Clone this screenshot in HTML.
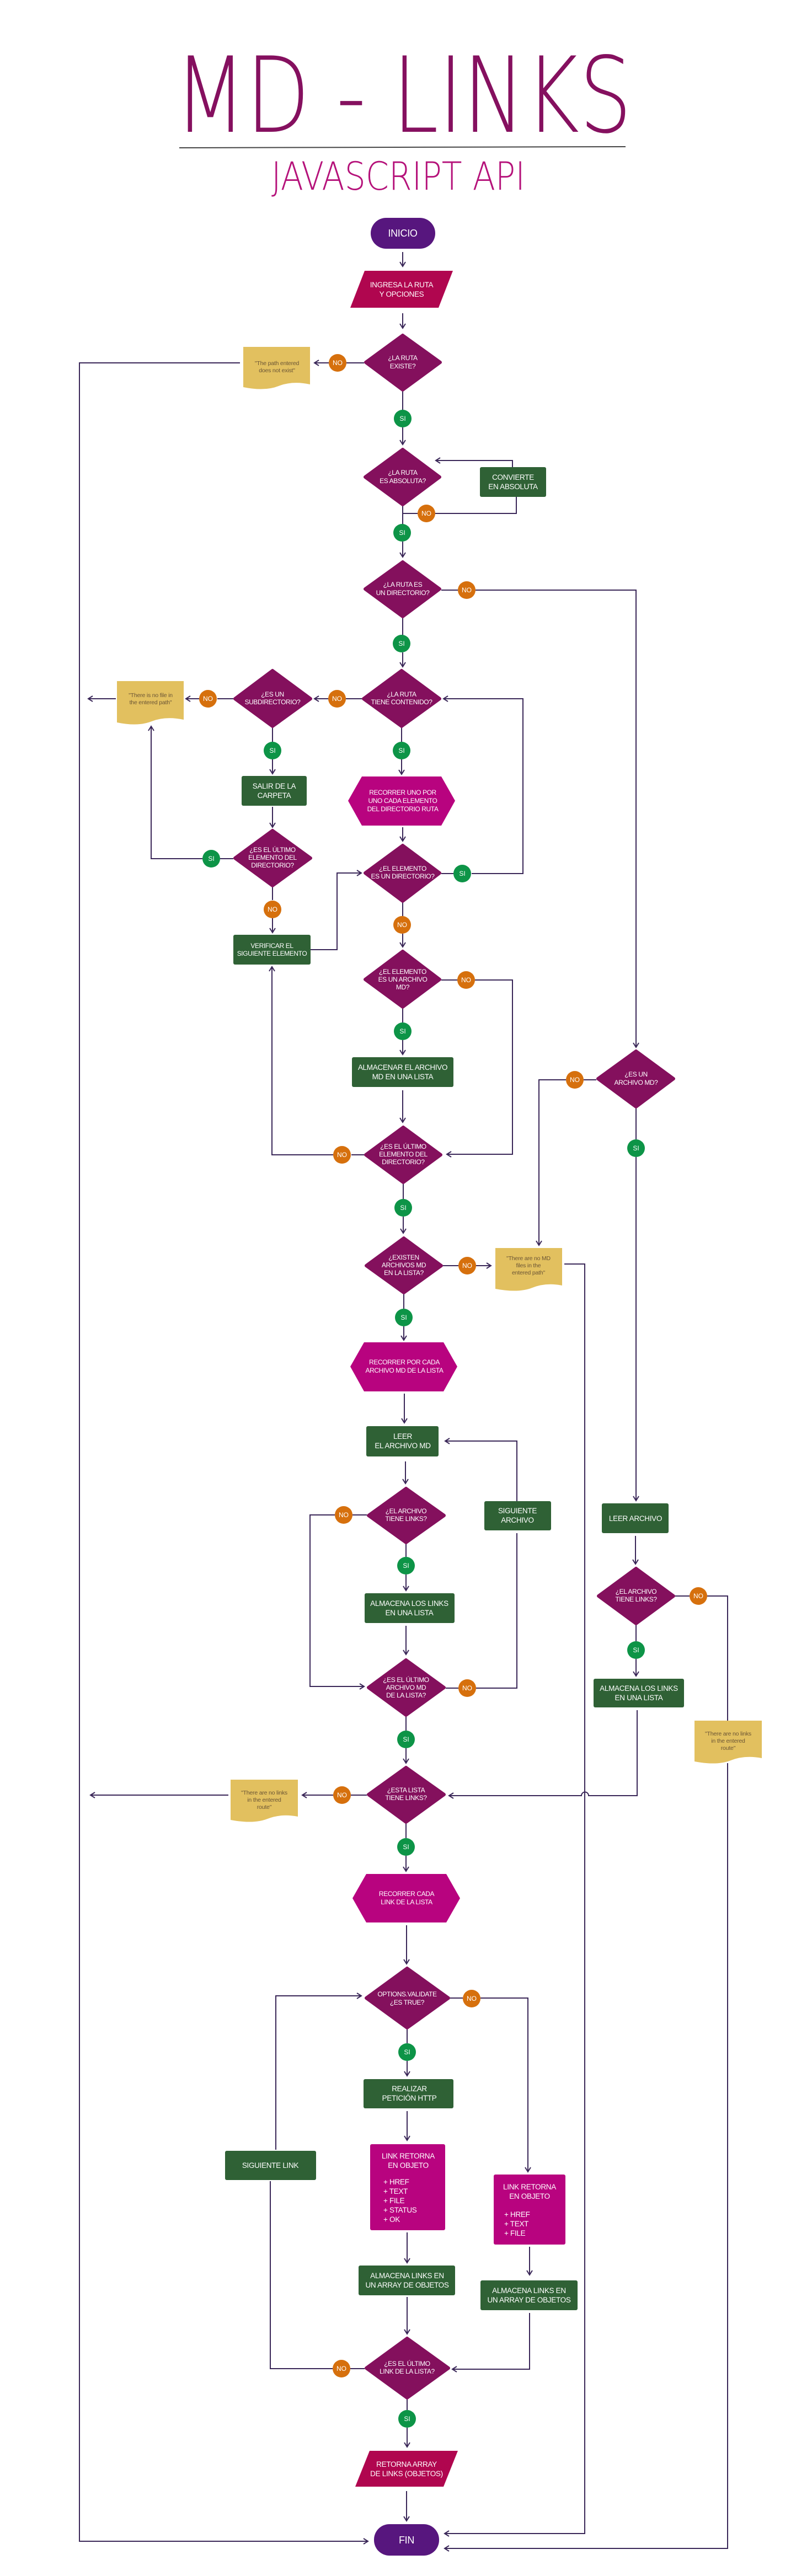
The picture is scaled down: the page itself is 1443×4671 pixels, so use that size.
<!DOCTYPE html>
<html><head><meta charset="utf-8"><style>
html,body{margin:0;padding:0;background:#fff}
svg{display:block}
.t{font-family:"Liberation Sans",sans-serif;fill:#fff;text-anchor:middle;font-size:13.5px;letter-spacing:-0.3px}
.s{font-size:12px;letter-spacing:-0.4px}
.n{font-family:"Liberation Sans",sans-serif;fill:#6b5535;text-anchor:middle;font-size:10.5px;letter-spacing:-0.2px}
.c{stroke:#3a2758;stroke-width:2;fill:none}
.a{stroke:#3a2758;stroke-width:2;fill:none;marker-end:url(#ar)}
.d{fill:#84105d;stroke:#84105d;stroke-width:6;stroke-linejoin:round}
.g{fill:#2f6135}
.m{fill:#b8037f}
.p{fill:#b0064f}
.y{fill:#e2c05f}
</style></head><body>
<svg width="1443" height="4671" viewBox="0 0 1443 4671" xmlns="http://www.w3.org/2000/svg">
<defs><marker id="ar" markerWidth="14" markerHeight="14" refX="9" refY="6" orient="auto" markerUnits="userSpaceOnUse"><path d="M1,1 L9,6 L1,11" stroke="#3a2758" stroke-width="2" fill="none"/></marker></defs>

<text x="731" y="239" text-anchor="middle" textLength="829" lengthAdjust="spacingAndGlyphs" style="font-family:'DejaVu Sans','Liberation Sans',sans-serif;font-weight:200;font-size:190px;fill:#85105f">MD - LINKS</text>
<line x1="325" y1="268" x2="1134" y2="266" stroke="#444" stroke-width="2"/>
<text x="722" y="344" text-anchor="middle" textLength="460" lengthAdjust="spacingAndGlyphs" style="font-family:'DejaVu Sans','Liberation Sans',sans-serif;font-weight:200;font-size:70px;fill:#b5127a">JAVASCRIPT API</text>

<!-- connectors -->
<g>
<path class="a" d="M730,457V483"/>
<path class="a" d="M730,568V595"/>
<path class="c" d="M660,658H628"/><path class="a" d="M596,658H570"/>
<path class="a" d="M435,658H144V4608H667"/>
<path class="c" d="M730,710V744"/><path class="a" d="M730,775V806"/>
<path class="c" d="M730,918V931H757"/><path class="c" d="M789,931H936V901"/>
<path class="a" d="M929,847V835H790"/>
<path class="c" d="M730,931V951"/><path class="a" d="M730,982V1010"/>
<path class="c" d="M800,1070H830"/><path class="a" d="M862,1070H1153V1899"/>
<path class="c" d="M730,1121V1152"/><path class="a" d="M730,1183V1209"/>
<path class="c" d="M656,1267H627"/><path class="a" d="M595,1267H570"/>
<path class="c" d="M423,1267H394"/><path class="a" d="M361,1267H337"/>
<path class="a" d="M210,1267H160"/>
<path class="c" d="M728,1320V1345"/><path class="a" d="M728,1377V1404"/>
<path class="a" d="M730,1500V1525"/>
<path class="c" d="M800,1584H822"/><path class="a" d="M855,1584H948V1267H804"/>
<path class="c" d="M730,1637V1661"/><path class="a" d="M730,1693V1717"/>
<path class="c" d="M800,1777H830"/><path class="a" d="M861,1777H929V2093H810"/>
<path class="c" d="M730,1829V1854"/><path class="a" d="M730,1886V1912"/>
<path class="a" d="M730,1977V2035"/>
<path class="c" d="M660,2094H637"/><path class="a" d="M604,2094H493V1753"/>
<path class="c" d="M731,2147V2175"/><path class="a" d="M731,2206V2236"/>
<path class="c" d="M494,1320V1345"/><path class="a" d="M494,1377V1403"/>
<path class="a" d="M494,1463V1500"/>
<path class="c" d="M423,1557H399"/><path class="a" d="M367,1557H274V1317"/>
<path class="c" d="M494,1609V1632"/><path class="a" d="M494,1665V1691"/>
<path class="a" d="M563,1722H611V1583H655"/>
<path class="c" d="M803,2295H831"/><path class="a" d="M863,2295H890"/>
<path class="a" d="M1023,2292H1060V4594H806"/>
<path class="c" d="M732,2347V2373"/><path class="a" d="M732,2405V2430"/>
<path class="a" d="M733,2527V2580"/>
<path class="a" d="M735,2650V2690"/>
<path class="c" d="M665,2747H639"/><path class="a" d="M607,2747H562V3058H660"/>
<path class="c" d="M736,2800V2823"/><path class="a" d="M736,2855V2884"/>
<path class="a" d="M736,2948V3000"/>
<path class="c" d="M808,3061H831"/><path class="c" d="M863,3061H937V2780"/>
<path class="a" d="M937,2722V2613H807"/>
<path class="c" d="M736,3113V3138"/><path class="a" d="M736,3170V3197"/>
<path class="c" d="M665,3255H636"/><path class="a" d="M604,3255H548"/>
<path class="a" d="M414,3255H164"/>
<path class="a" d="M1155,3101V3256H1067a6,6 0 0 0 -13,0H814"/>
<path class="c" d="M736,3307V3333"/><path class="a" d="M736,3365V3393"/>
<path class="c" d="M1081,1958H1058"/><path class="a" d="M1026,1958H977V2258"/>
<path class="c" d="M1153,2010V2066"/><path class="a" d="M1153,2098V2721"/>
<path class="a" d="M1152,2785V2836"/>
<path class="c" d="M1224,2894H1250"/><path class="c" d="M1282,2894H1319V3120"/>
<path class="a" d="M1319,3197V4621H806"/>
<path class="c" d="M1153,2947V2976"/><path class="a" d="M1153,3008V3039"/>
<path class="a" d="M737,3491V3561"/>
<path class="c" d="M816,3623H839"/><path class="a" d="M871,3623H957V3938"/>
<path class="c" d="M738,3680V3705"/><path class="a" d="M738,3737V3764"/>
<path class="a" d="M738,3828V3881"/>
<path class="a" d="M738,4048V4103"/>
<path class="a" d="M738,4165V4232"/>
<path class="c" d="M661,4295H635"/><path class="c" d="M603,4295H490V3955"/>
<path class="a" d="M500,3898V3619H655"/>
<path class="a" d="M960,4074V4125"/>
<path class="a" d="M960,4194V4296H820"/>
<path class="c" d="M738,4351V4370"/><path class="a" d="M738,4402V4437"/>
<path class="a" d="M737,4517V4571"/>
</g>

<!-- shapes -->
<rect x="672" y="395" width="117" height="56" rx="28" fill="#57167e"/>
<text class="t" x="730" y="429" style="font-size:18px">INICIO</text>
<polygon class="p" points="661,491 821,491 795,558 635,558"/>
<text class="t" x="728" y="521">INGRESA LA RUTA<tspan x="728" dy="17">Y OPCIONES</tspan></text>

<polygon class="d" points="730,608 798,657 730,707 663,657"/>
<text class="t s" x="730" y="653">¿LA RUTA<tspan x="730" dy="15">EXISTE?</tspan></text>
<path class="y" d="M441,629H562V697Q530,690 505,700T441,702Z"/>
<text class="n" x="502" y="662">"The path entered<tspan x="502" dy="13">does not exist"</tspan></text>

<polygon class="d" points="730,815 797,865 730,915 662,865"/>
<text class="t s" x="730" y="861">¿LA RUTA<tspan x="730" dy="15">ES ABSOLUTA?</tspan></text>
<rect class="g" x="870" y="847" width="120" height="54" rx="3"/>
<text class="t" x="930" y="870">CONVIERTE<tspan x="930" dy="17">EN ABSOLUTA</tspan></text>

<polygon class="d" points="730,1019 797,1068 730,1118 662,1068"/>
<text class="t s" x="730" y="1064">¿LA RUTA ES<tspan x="730" dy="15">UN DIRECTORIO?</tspan></text>

<polygon class="d" points="728,1216 797,1267 728,1317 659,1267"/>
<text class="t s" x="728" y="1263">¿LA RUTA<tspan x="728" dy="14">TIENE CONTENIDO?</tspan></text>
<polygon class="d" points="494,1216 563,1267 494,1317 426,1267"/>
<text class="t s" x="494" y="1263">¿ES UN<tspan x="494" dy="14">SUBDIRECTORIO?</tspan></text>
<path class="y" d="M212,1235H333V1305Q300,1298 275,1308T212,1310Z"/>
<text class="n" x="273" y="1264">"There is no file in<tspan x="273" dy="13">the entered path"</tspan></text>

<rect class="g" x="438" y="1407" width="118" height="54" rx="3"/>
<text class="t" x="497" y="1430">SALIR DE LA<tspan x="497" dy="17">CARPETA</tspan></text>
<polygon class="m" points="656,1408 800,1408 825,1452 800,1497 656,1497 631,1452"/>
<text class="t s" x="730" y="1441">RECORRER UNO POR<tspan x="730" dy="15">UNO CADA ELEMENTO</tspan><tspan x="730" dy="15">DEL DIRECTORIO RUTA</tspan></text>

<polygon class="d" points="494,1506 563,1556 494,1606 426,1556"/>
<text class="t s" x="494" y="1545">¿ES EL ÚLTIMO<tspan x="494" dy="14">ELEMENTO DEL</tspan><tspan x="494" dy="14">DIRECTORIO?</tspan></text>
<polygon class="d" points="730,1533 797,1583 730,1634 662,1583"/>
<text class="t s" x="730" y="1579">¿EL ELEMENTO<tspan x="730" dy="14">ES UN DIRECTORIO?</tspan></text>
<rect class="g" x="423" y="1695" width="140" height="54" rx="3"/>
<text class="t s" x="493" y="1719">VERIFICAR EL<tspan x="493" dy="14">SIGUIENTE ELEMENTO</tspan></text>

<polygon class="d" points="730,1725 797,1776 730,1826 662,1776"/>
<text class="t s" x="730" y="1766">¿EL ELEMENTO<tspan x="730" dy="14">ES UN ARCHIVO</tspan><tspan x="730" dy="14">MD?</tspan></text>
<rect class="g" x="638" y="1917" width="184" height="54" rx="3"/>
<text class="t" x="730" y="1940">ALMACENAR EL ARCHIVO<tspan x="730" dy="17">MD EN UNA LISTA</tspan></text>
<polygon class="d" points="731,2044 799,2094 731,2144 663,2094"/>
<text class="t s" x="731" y="2083">¿ES EL ÚLTIMO<tspan x="731" dy="14">ELEMENTO DEL</tspan><tspan x="731" dy="14">DIRECTORIO?</tspan></text>

<polygon class="d" points="1153,1906 1221,1956 1153,2007 1084,1956"/>
<text class="t s" x="1153" y="1952">¿ES UN<tspan x="1153" dy="15">ARCHIVO MD?</tspan></text>

<polygon class="d" points="732,2245 800,2295 732,2344 664,2295"/>
<text class="t s" x="732" y="2284">¿EXISTEN<tspan x="732" dy="14">ARCHIVOS MD</tspan><tspan x="732" dy="14">EN LA LISTA?</tspan></text>
<path class="y" d="M898,2263H1019V2331Q990,2325 965,2335T898,2337Z"/>
<text class="n" x="958" y="2285">"There are no MD<tspan x="958" dy="13">files in the</tspan><tspan x="958" dy="13">entered path"</tspan></text>

<polygon class="m" points="660,2434 804,2434 829,2478 804,2523 660,2523 635,2478"/>
<text class="t s" x="733" y="2474">RECORRER POR CADA<tspan x="733" dy="15">ARCHIVO MD DE LA LISTA</tspan></text>
<rect class="g" x="664" y="2586" width="131" height="55" rx="3"/>
<text class="t" x="730" y="2609">LEER<tspan x="730" dy="17">EL ARCHIVO MD</tspan></text>
<rect class="g" x="878" y="2722" width="121" height="53" rx="3"/>
<text class="t" x="938" y="2744">SIGUIENTE<tspan x="938" dy="17">ARCHIVO</tspan></text>
<polygon class="d" points="736,2699 805,2748 736,2797 668,2748"/>
<text class="t s" x="736" y="2744">¿EL ARCHIVO<tspan x="736" dy="14">TIENE LINKS?</tspan></text>
<rect class="g" x="661" y="2889" width="163" height="54" rx="3"/>
<text class="t" x="742" y="2912">ALMACENA LOS LINKS<tspan x="742" dy="17">EN UNA LISTA</tspan></text>
<polygon class="d" points="736,3010 805,3060 736,3110 668,3060"/>
<text class="t s" x="736" y="3050">¿ES EL ÚLTIMO<tspan x="736" dy="14">ARCHIVO MD</tspan><tspan x="736" dy="14">DE LA LISTA?</tspan></text>
<polygon class="d" points="736,3205 805,3254 736,3304 668,3254"/>
<text class="t s" x="736" y="3250">¿ESTA LISTA<tspan x="736" dy="14">TIENE LINKS?</tspan></text>
<path class="y" d="M418,3227H540V3294Q510,3288 485,3298T418,3300Z"/>
<text class="n" x="479" y="3254">"There are no links<tspan x="479" dy="13">in the entered</tspan><tspan x="479" dy="13">route"</tspan></text>

<rect class="g" x="1091" y="2726" width="121" height="54" rx="3"/>
<text class="t" x="1152" y="2758">LEER ARCHIVO</text>
<polygon class="d" points="1153,2844 1221,2894 1153,2944 1085,2894"/>
<text class="t s" x="1153" y="2890">¿EL ARCHIVO<tspan x="1153" dy="14">TIENE LINKS?</tspan></text>
<rect class="g" x="1076" y="3044" width="164" height="52" rx="3"/>
<text class="t" x="1158" y="3066">ALMACENA LOS LINKS<tspan x="1158" dy="17">EN UNA LISTA</tspan></text>
<path class="y" d="M1259,3120H1381V3188Q1350,3182 1325,3192T1259,3194Z"/>
<text class="n" x="1320" y="3147">"There are no links<tspan x="1320" dy="13">in the entered</tspan><tspan x="1320" dy="13">route"</tspan></text>

<polygon class="m" points="664,3398 809,3398 834,3442 809,3486 664,3486 639,3442"/>
<text class="t s" x="737" y="3438">RECORRER CADA<tspan x="737" dy="15">LINK DE LA LISTA</tspan></text>
<polygon class="d" points="738,3569 813,3623 738,3677 664,3623"/>
<text class="t s" x="738" y="3620">OPTIONS.VALIDATE<tspan x="738" dy="15">¿ES TRUE?</tspan></text>
<rect class="g" x="659" y="3770" width="163" height="53" rx="3"/>
<text class="t" x="742" y="3792">REALIZAR<tspan x="742" dy="17">PETICIÓN HTTP</tspan></text>
<rect class="m" x="671" y="3888" width="136" height="156" rx="3"/>
<text class="t" x="740" y="3914">LINK RETORNA<tspan x="740" dy="17">EN OBJETO</tspan></text>
<text class="t" x="695" y="3961" style="text-anchor:start">+ HREF<tspan x="695" dy="17">+ TEXT</tspan><tspan x="695" dy="17">+ FILE</tspan><tspan x="695" dy="17">+ STATUS</tspan><tspan x="695" dy="17">+ OK</tspan></text>
<rect class="g" x="408" y="3900" width="165" height="53" rx="3"/>
<text class="t" x="490" y="3931">SIGUIENTE LINK</text>
<rect class="m" x="895" y="3943" width="130" height="127" rx="3"/>
<text class="t" x="960" y="3970">LINK RETORNA<tspan x="960" dy="17">EN OBJETO</tspan></text>
<text class="t" x="914" y="4020" style="text-anchor:start">+ HREF<tspan x="914" dy="17">+ TEXT</tspan><tspan x="914" dy="17">+ FILE</tspan></text>
<rect class="g" x="650" y="4108" width="175" height="54" rx="3"/>
<text class="t" x="738" y="4131">ALMACENA LINKS EN<tspan x="738" dy="17">UN ARRAY DE OBJETOS</tspan></text>
<rect class="g" x="871" y="4135" width="176" height="54" rx="3"/>
<text class="t" x="959" y="4158">ALMACENA LINKS EN<tspan x="959" dy="17">UN ARRAY DE OBJETOS</tspan></text>
<polygon class="d" points="738,4240 813,4294 738,4348 664,4294"/>
<text class="t s" x="738" y="4290">¿ES EL ÚLTIMO<tspan x="738" dy="14">LINK DE LA LISTA?</tspan></text>
<polygon class="p" points="670,4444 830,4444 804,4509 644,4509"/>
<text class="t" x="737" y="4473">RETORNA ARRAY<tspan x="737" dy="17">DE LINKS (OBJETOS)</tspan></text>
<rect x="678" y="4577" width="118" height="57" rx="28" fill="#57167e"/>
<text class="t" x="737" y="4612" style="font-size:18px">FIN</text>

<!-- circles -->
<g font-family="Liberation Sans,sans-serif" font-size="12" text-anchor="middle" fill="#fff">
<g fill="#d6700d">
<circle cx="612" cy="658" r="16"/><circle cx="773" cy="931" r="16"/><circle cx="846" cy="1070" r="16"/>
<circle cx="611" cy="1267" r="16"/><circle cx="377" cy="1267" r="16"/><circle cx="494" cy="1649" r="16"/>
<circle cx="729" cy="1677" r="16"/><circle cx="845" cy="1777" r="16"/><circle cx="620" cy="2094" r="16"/>
<circle cx="1042" cy="1958" r="16"/><circle cx="847" cy="2295" r="16"/><circle cx="623" cy="2747" r="16"/>
<circle cx="847" cy="3061" r="16"/><circle cx="620" cy="3255" r="16"/><circle cx="1266" cy="2894" r="16"/>
<circle cx="855" cy="3624" r="16"/><circle cx="619" cy="4295" r="16"/>
</g>
<g fill="#0d9447">
<circle cx="730" cy="759" r="16"/><circle cx="729" cy="966" r="16"/><circle cx="728" cy="1167" r="16"/>
<circle cx="494" cy="1361" r="16"/><circle cx="728" cy="1361" r="16"/><circle cx="383" cy="1557" r="16"/>
<circle cx="838" cy="1584" r="16"/><circle cx="730" cy="1870" r="16"/><circle cx="731" cy="2190" r="16"/>
<circle cx="1153" cy="2082" r="16"/><circle cx="732" cy="2389" r="16"/><circle cx="736" cy="2839" r="16"/>
<circle cx="736" cy="3154" r="16"/><circle cx="1153" cy="2992" r="16"/><circle cx="736" cy="3349" r="16"/>
<circle cx="738" cy="3721" r="16"/><circle cx="738" cy="4386" r="16"/>
</g>
<g>
<text x="612" y="662">NO</text><text x="773" y="935">NO</text><text x="846" y="1074">NO</text>
<text x="611" y="1271">NO</text><text x="377" y="1271">NO</text><text x="494" y="1653">NO</text>
<text x="729" y="1681">NO</text><text x="845" y="1781">NO</text><text x="620" y="2098">NO</text>
<text x="1042" y="1962">NO</text><text x="847" y="2299">NO</text><text x="623" y="2751">NO</text>
<text x="847" y="3065">NO</text><text x="620" y="3259">NO</text><text x="1266" y="2898">NO</text>
<text x="855" y="3628">NO</text><text x="619" y="4299">NO</text>
<text x="730" y="763">SI</text><text x="729" y="970">SI</text><text x="728" y="1171">SI</text>
<text x="494" y="1365">SI</text><text x="728" y="1365">SI</text><text x="383" y="1561">SI</text>
<text x="838" y="1588">SI</text><text x="730" y="1874">SI</text><text x="731" y="2194">SI</text>
<text x="1153" y="2086">SI</text><text x="732" y="2393">SI</text><text x="736" y="2843">SI</text>
<text x="736" y="3158">SI</text><text x="1153" y="2996">SI</text><text x="736" y="3353">SI</text>
<text x="738" y="3725">SI</text><text x="738" y="4390">SI</text>
</g>
</g>
</svg>
</body></html>
